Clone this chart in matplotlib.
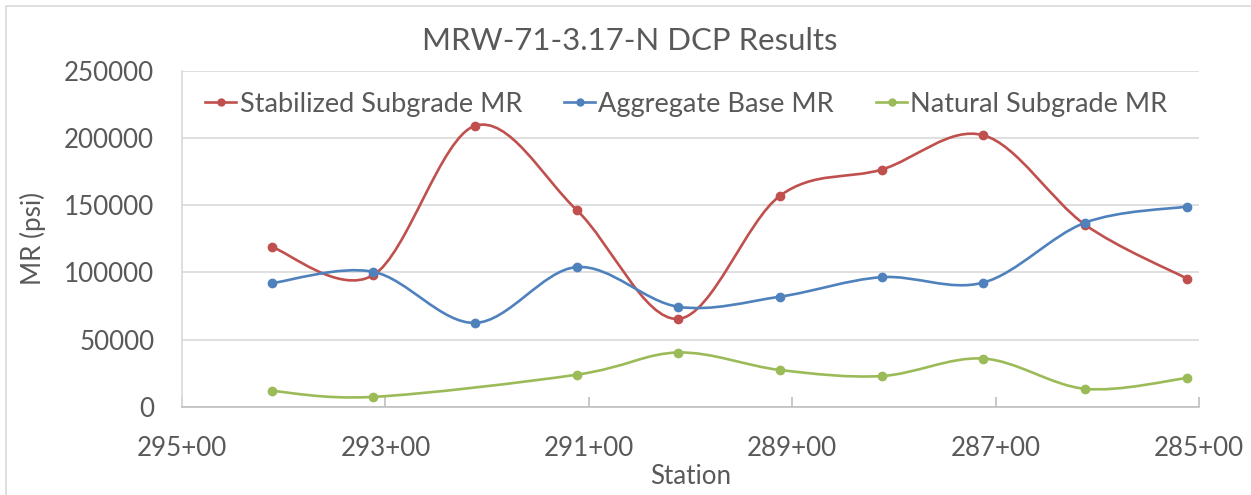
import numpy as np
import matplotlib.pyplot as plt
from matplotlib.path import Path
from matplotlib.patches import PathPatch, Rectangle
from matplotlib.lines import Line2D
from matplotlib.ticker import FuncFormatter, MultipleLocator

plt.rcParams['font.family'] = ['Lato', 'DejaVu Sans']

# station in feet (29412 -> 294+12)
stations = [29412, 29312, 29212, 29112, 29012, 28912, 28812, 28712, 28612, 28512]
stabilized_mr = [119000, 98000, 209000, 146500, 65500, 157000, 176500, 202000, 135500, 95500]
aggregate_mr = [92000, 100500, 62500, 104000, 74500, 82000, 96500, 92500, 137000, 149000]
natural_mr = [12000, 7500, np.nan, 24000, 40500, 27500, 23000, 36000, 13500, 21500]
station_ticks = [29500, 29300, 29100, 28900, 28700, 28500]

series = [
    ("Stabilized Subgrade MR", stabilized_mr, "#C0504D"),
    ("Aggregate Base MR", aggregate_mr, "#4F81BD"),
    ("Natural Subgrade MR", natural_mr, "#9BBB59"),
]

TEXT = "#595959"
GRID = "#D9D9D9"


def smooth_path(x, y):
    # cubic bezier through the points, excel-style smoothed line
    pts = np.column_stack([x, y])
    n = len(pts)
    verts = [pts[0]]
    codes = [Path.MOVETO]
    for i in range(n - 1):
        p0 = pts[max(i - 1, 0)]
        p1 = pts[i]
        p2 = pts[i + 1]
        p3 = pts[min(i + 2, n - 1)]
        c1 = p1 + (p2 - p0) / 6.0
        c2 = p2 - (p3 - p1) / 6.0
        verts += [c1, c2, p2]
        codes += [Path.CURVE4] * 3
    return Path(verts, codes)


fig = plt.figure(figsize=(12.51, 4.95), dpi=100)
ax = fig.add_axes([0.1455, 0.1778, 0.8129, 0.6794])

handles = []
for name, vals, color in series:
    x = np.array(stations, dtype=float)
    y = np.array(vals, dtype=float)
    ok = ~np.isnan(y)  # gaps are bridged, like "connect data points with line"
    ax.add_patch(PathPatch(smooth_path(x[ok], y[ok]), facecolor='none',
                           edgecolor=color, lw=1.9, zorder=3, capstyle='round'))
    ax.plot(x[ok], y[ok], 'o', color=color, ms=6, zorder=4)
    handles.append(Line2D([], [], color=color, lw=1.9, marker='o', ms=5, label=name))

ax.set_xlim(29500, 28500)
ax.set_ylim(0, 250000)
ax.set_xticks(station_ticks)
ax.yaxis.set_major_locator(MultipleLocator(50000))
ax.xaxis.set_major_formatter(FuncFormatter(lambda v, p: f"{int(round(v)) // 100}+{int(round(v)) % 100:02d}"))

ax.grid(axis='y', color=GRID, lw=1.2)
ax.set_axisbelow(True)
for s in ['top', 'right']:
    ax.spines[s].set_visible(False)
ax.spines['left'].set_color(GRID)
ax.spines['bottom'].set_color("#BFBFBF")
ax.spines['left'].set_linewidth(1.2)
ax.spines['bottom'].set_linewidth(1.2)

ax.tick_params(axis='x', direction='in', length=7, width=1.2, color="#BFBFBF",
               labelsize=18.7, labelcolor=TEXT, pad=21)
ax.tick_params(axis='y', length=0, labelsize=18.7, labelcolor=TEXT, pad=20)

ax.set_xlabel("Station", fontsize=18.7, color=TEXT, labelpad=2)
ax.set_ylabel("MR (psi)", fontsize=18.7, color=TEXT, labelpad=13)
fig.text(0.503, 0.918, "MRW-71-3.17-N DCP Results", ha='center', va='center',
         fontsize=22.4, color=TEXT)

leg = ax.legend(handles=handles, ncol=3, loc='upper center', bbox_to_anchor=(0.496, 1.01),
                frameon=False, fontsize=19.5, handlelength=1.15, handletextpad=0.12,
                columnspacing=1.55, labelcolor=TEXT)

# outer chart border
fig.patches.append(Rectangle((6 / 1251, -0.1), 1.2, 1 - 6 / 495 + 0.1,
                             transform=fig.transFigure, fill=False,
                             edgecolor=GRID, lw=1.2))

fig.savefig("out.png", dpi=100)
